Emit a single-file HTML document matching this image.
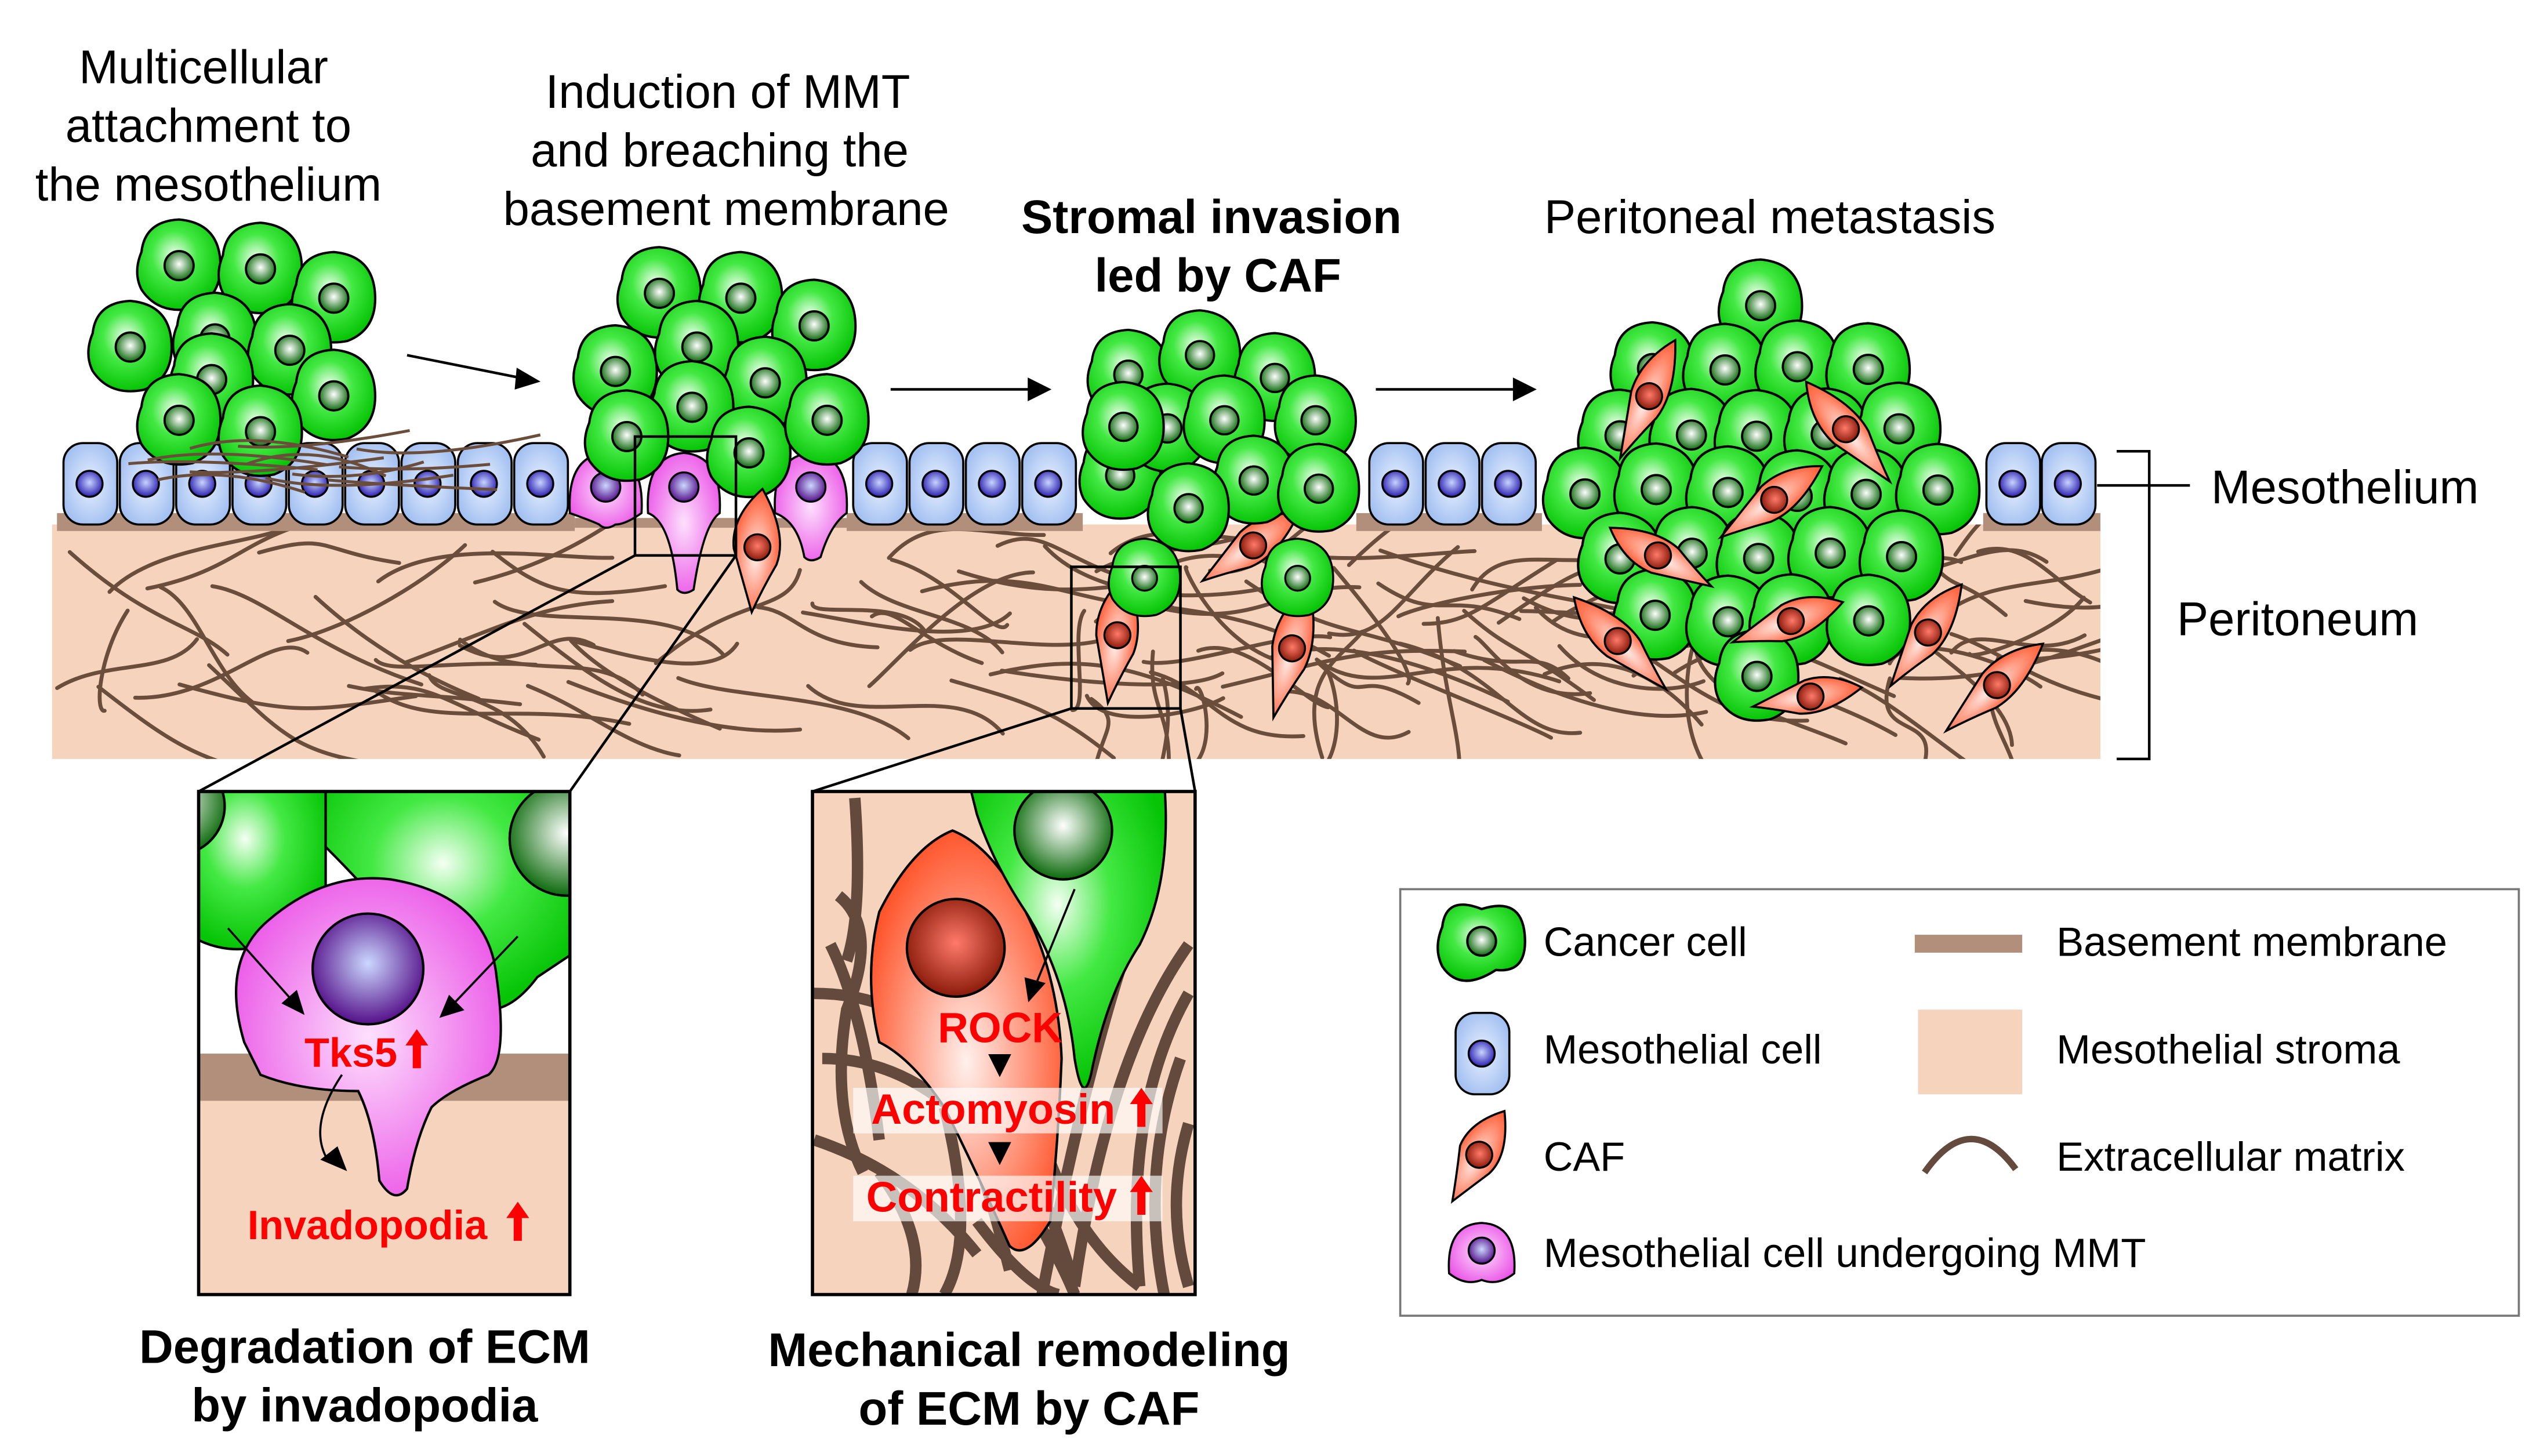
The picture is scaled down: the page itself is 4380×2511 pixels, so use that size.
<!DOCTYPE html>
<html><head><meta charset="utf-8"><style>
html,body{margin:0;padding:0;background:#fff}
svg{display:block}
text{font-family:"Liberation Sans",Arial,sans-serif}
</style></head><body>
<svg id="s" width="4380" height="2511" viewBox="0 0 1560 894" xmlns="http://www.w3.org/2000/svg">
<defs>
<radialGradient id="gc" cx="0.45" cy="0.4" r="0.6"><stop offset="0" stop-color="#f4fff4"/><stop offset="0.45" stop-color="#44e944"/><stop offset="1" stop-color="#06c406"/></radialGradient>
<radialGradient id="gn" cx="0.5" cy="0.45" r="0.55"><stop offset="0" stop-color="#ffffff"/><stop offset="1" stop-color="#0c6a0c"/></radialGradient>
<radialGradient id="bc" cx="0.5" cy="0.5" r="0.6"><stop offset="0" stop-color="#e8f0ff"/><stop offset="1" stop-color="#9dbcf0"/></radialGradient>
<radialGradient id="bn" cx="0.5" cy="0.45" r="0.55"><stop offset="0" stop-color="#c8d4ff"/><stop offset="1" stop-color="#2a1fb0"/></radialGradient>
<radialGradient id="pc" cx="0.5" cy="0.5" r="0.6"><stop offset="0" stop-color="#fde0fd"/><stop offset="1" stop-color="#ea4ee6"/></radialGradient>
<radialGradient id="pn" cx="0.5" cy="0.45" r="0.55"><stop offset="0" stop-color="#cbd8ff"/><stop offset="1" stop-color="#55108a"/></radialGradient>
<radialGradient id="rc" cx="0.5" cy="0.55" r="0.6"><stop offset="0" stop-color="#fff0ec"/><stop offset="1" stop-color="#ff4a1e"/></radialGradient>
<radialGradient id="rn" cx="0.5" cy="0.45" r="0.55"><stop offset="0" stop-color="#ff7a6a"/><stop offset="1" stop-color="#8a1a0a"/></radialGradient>
<clipPath id="cz1"><rect x="122" y="486" width="228" height="309"/></clipPath>
<clipPath id="cz2"><rect x="499" y="486" width="235" height="309"/></clipPath>
<clipPath id="cstroma"><rect x="32" y="322" width="1258" height="144"/></clipPath>
</defs>
<rect x="32" y="322" width="1258" height="144" fill="#f5d3bc"/>
<g id="fib" clip-path="url(#cstroma)" stroke="#6b4d3c" stroke-width="2.4" fill="none" stroke-linecap="round"></g>
<g fill="#b18f7b">
<rect x="35" y="315" width="318" height="11"/><rect x="520" y="315" width="145" height="11"/><rect x="833" y="315" width="114" height="11"/><rect x="1218" y="315" width="72" height="11"/><rect x="353" y="318" width="170" height="6"/>
</g>
<g id="meso"></g>
<g id="cells"></g>
<g stroke="#000" stroke-width="1.6" fill="#000">
<line x1="250" y1="218" x2="320" y2="232"/><polygon points="330,234 318,227 317,238"/>
<line x1="547" y1="239" x2="632" y2="239"/><polygon points="644,239 632,233 632,245"/>
<line x1="845" y1="239" x2="930" y2="239"/><polygon points="942,239 930,233 930,245"/>
</g>
<path d="M1300,277 H1320 V466 H1300 M1288,298 H1345" stroke="#000" stroke-width="1.6" fill="none"/>
<g stroke="#000" stroke-width="1.6" fill="none">
<rect x="390" y="268" width="62" height="73"/>
<rect x="658" y="348" width="67" height="87"/>
<line x1="390" y1="341" x2="122" y2="486"/><line x1="452" y1="341" x2="350" y2="486"/>
<line x1="658" y1="435" x2="499" y2="486"/><line x1="725" y1="435" x2="734" y2="486"/>
</g>
<g clip-path="url(#cz1)">
<rect x="122" y="486" width="228" height="309" fill="#fff"/>
<rect x="122" y="676" width="228" height="130" fill="#f5d3bc"/>
<rect x="122" y="647" width="228" height="29" fill="#b18f7b"/>
<path d="M110,470 L110,570 Q150,600 200,560 L200,470Z" fill="url(#gc)" stroke="#000" stroke-width="1.5"/>
<path d="M200,470 L200,520 Q240,560 270,600 Q300,640 330,600 L360,580 L360,470Z" fill="url(#gc)" stroke="#000" stroke-width="1.5"/>
<circle cx="348" cy="515" r="35" fill="url(#gn)" stroke="#000" stroke-width="1.5"/>
<circle cx="108" cy="495" r="30" fill="url(#gn)" stroke="#000" stroke-width="1.5"/>
<path d="M150,640 Q135,590 165,565 Q200,535 240,540 Q300,550 305,600 Q312,650 300,660 Q275,670 265,680 Q255,700 250,730 Q242,740 233,725 Q230,690 220,670 Q185,670 160,660 Z" fill="url(#pc)" stroke="#000" stroke-width="1.5"/>
<circle cx="226" cy="595" r="34" fill="url(#pn)" stroke="#000" stroke-width="1.5"/>
</g>
<rect x="122" y="486" width="228" height="309" fill="none" stroke="#000" stroke-width="2"/>
<g stroke="#000" stroke-width="1.3" fill="#000">
<line x1="140" y1="570" x2="180" y2="615"/><polygon points="186,622 174,616 182,609"/>
<line x1="318" y1="575" x2="278" y2="617"/><polygon points="271,624 276,612 284,620"/>
<path d="M210,660 Q190,690 200,710" fill="none"/><polygon points="212,718 198,712 207,705"/>
</g>
<defs><path id="ua" d="M-2.5,0 V-14 H-7 L0,-24 L7,-14 H2.5 V0Z" fill="#ff0000"/></defs>
<text x="187" y="655" font-size="25" font-weight="bold" fill="#ff0000">Tks5</text>
<use href="#ua" x="256" y="656"/>
<text x="152" y="761" font-size="25" font-weight="bold" fill="#ff0000">Invadopodia</text>
<use href="#ua" x="318" y="762"/>
<g clip-path="url(#cz2)">
<rect x="499" y="486" width="235" height="309" fill="#f5d3bc"/>
<g stroke="#634a3c" stroke-width="7" fill="none">
<path d="M525,490 Q530,560 520,590"/><path d="M515,550 Q540,570 520,620 Q510,680 530,720"/>
<path d="M510,580 Q530,620 540,700"/><path d="M500,610 Q560,610 600,660 Q640,720 660,790"/>
<path d="M505,650 Q570,650 620,720 Q650,770 660,795"/><path d="M500,700 Q560,720 600,770"/>
<path d="M570,630 Q600,700 620,780"/><path d="M700,560 Q670,640 640,795"/>
<path d="M730,580 Q680,650 660,790"/><path d="M730,610 Q690,680 700,790"/>
<path d="M725,650 Q700,720 715,795"/><path d="M730,690 Q715,740 730,790"/>
<path d="M640,700 Q660,760 700,790"/><path d="M580,680 Q600,760 580,795"/>
<path d="M540,720 Q570,760 560,795"/><path d="M600,750 Q630,790 650,795"/>
</g>
<path d="M540,560 Q560,520 585,510 Q610,520 630,560 Q650,600 652,650 Q650,700 645,750 Q630,775 620,765 Q600,720 580,680 Q560,650 540,640 Q530,600 540,560Z" fill="url(#rc)" stroke="#000" stroke-width="1.5"/>
<path d="M595,480 L600,500 Q610,530 630,560 Q655,600 660,650 Q665,680 670,660 Q680,610 700,580 Q720,540 715,480Z" fill="url(#gc)" stroke="#000" stroke-width="1.5"/>
<circle cx="653" cy="510" r="30" fill="url(#gn)" stroke="#000" stroke-width="1.5"/>
<circle cx="587" cy="582" r="30" fill="url(#rn)" stroke="#000" stroke-width="1.5"/>
<rect x="524" y="668" width="190" height="28" fill="#fff" fill-opacity="0.65"/>
<rect x="524" y="722" width="190" height="28" fill="#fff" fill-opacity="0.65"/>
</g>
<rect x="499" y="486" width="235" height="309" fill="none" stroke="#000" stroke-width="2"/>
<g stroke="#000" stroke-width="1.3" fill="#000">
<line x1="660" y1="546" x2="636" y2="605"/><polygon points="632,614 630,601 641,604"/>
<polygon points="608,648 620,648 614,660"/><polygon points="608,702 620,702 614,714"/>
</g>
<text x="576" y="640" font-size="26" font-weight="bold" fill="#ff0000">ROCK</text>
<text x="535" y="690" font-size="26" font-weight="bold" fill="#ff0000" textLength="150" lengthAdjust="spacingAndGlyphs">Actomyosin</text>
<use href="#ua" x="701" y="692"/>
<text x="532" y="744" font-size="26" font-weight="bold" fill="#ff0000" textLength="154" lengthAdjust="spacingAndGlyphs">Contractility</text>
<use href="#ua" x="701" y="746"/>
<rect x="860" y="546" width="687" height="262" fill="#fff" stroke="#777" stroke-width="1.3"/>
<g id="leg"></g>
<rect x="1176" y="574" width="66" height="11" fill="#b18f7b"/>
<rect x="1178" y="620" width="64" height="52" fill="#f5d3bc"/>
<path d="M1182,720 Q1210,680 1238,718" stroke="#634a3c" stroke-width="4" fill="none"/>
<g font-size="25" fill="#000">
<text x="948" y="587">Cancer cell</text><text x="948" y="653">Mesothelial cell</text><text x="948" y="719">CAF</text><text x="948" y="778" textLength="370" lengthAdjust="spacingAndGlyphs">Mesothelial cell undergoing MMT</text>
<text x="1263" y="587" textLength="240" lengthAdjust="spacingAndGlyphs">Basement membrane</text><text x="1263" y="653" textLength="211" lengthAdjust="spacingAndGlyphs">Mesothelial stroma</text><text x="1263" y="719" textLength="214" lengthAdjust="spacingAndGlyphs">Extracellular matrix</text>
</g>
<g font-size="29" fill="#000" text-anchor="middle">
<text x="125" y="51">Multicellular</text><text x="128" y="87">attachment to</text><text x="128" y="123">the mesothelium</text>
<text x="447" y="66">Induction of MMT</text><text x="442" y="102">and breaching the</text><text x="446" y="138">basement membrane</text>
<text x="744" y="143" font-weight="bold">Stromal invasion</text><text x="748" y="179" font-weight="bold">led by CAF</text>
<text x="1087" y="143">Peritoneal metastasis</text>
<text x="224" y="837" font-weight="bold">Degradation of ECM</text><text x="224" y="873" font-weight="bold">by invadopodia</text>
<text x="632" y="839" font-weight="bold">Mechanical remodeling</text><text x="632" y="875" font-weight="bold">of ECM by CAF</text>
</g>
<g font-size="29" fill="#000"><text x="1358" y="309">Mesothelium</text><text x="1337" y="390">Peritoneum</text></g>
</svg>
<script>
var NS="http://www.w3.org/2000/svg";
function el(p,t,a){var e=document.createElementNS(NS,t);for(var k in a)e.setAttribute(k,a[k]);p.appendChild(e);return e;}
var seed=7;function r(){seed=(seed*16807)%2147483647;return seed/2147483647;}
var fib=document.getElementById('fib');
for(var i=0;i<130;i++){var x=35+r()*1240,y=335+r()*95,l=70+r()*90,a=(r()-0.5)*1.6;if(r()<0.25)a+=1.0;
var x2=x+Math.cos(a)*l,y2=y+Math.sin(a)*l*0.7;var c1x=x+(x2-x)*0.33+(r()-0.5)*50,c1y=y+(y2-y)*0.33+(r()-0.5)*50,c2x=x+(x2-x)*0.66+(r()-0.5)*50,c2y=y+(y2-y)*0.66+(r()-0.5)*50;
el(fib,'path',{d:'M'+x+','+y+' C'+c1x+','+c1y+' '+c2x+','+c2y+' '+x2+','+y2});}
var meso=document.getElementById('meso');
function mc(x){el(meso,'rect',{x:x-16,y:272,width:33,height:50,rx:12,fill:'url(#bc)',stroke:'#000','stroke-width':1.3});
el(meso,'circle',{cx:x,cy:297,r:8,fill:'url(#bn)',stroke:'#000','stroke-width':1.2});}
for(var i=0;i<9;i++)mc(55+i*34.6);
for(var i=0;i<4;i++)mc(540+i*34.6);
for(var i=0;i<3;i++)mc(857+i*34.6);
mc(1236);mc(1270);
var cells=document.getElementById('cells');
function pink(x,tail){var d='M'+(x-22)+',315 Q'+(x-24)+',280 '+x+',278 Q'+(x+24)+',280 '+(x+22)+',315 Q'+(x+12)+',322 '+(x+6)+','+(322+tail)+' Q'+x+','+(326+tail)+' '+(x-4)+','+(322+tail)+' Q'+(x-8)+',320 '+(x-22)+',315Z';
el(cells,'path',{d:d,fill:'url(#pc)',stroke:'#000','stroke-width':1.3});el(cells,'circle',{cx:x,cy:299,r:9,fill:'url(#pn)',stroke:'#000','stroke-width':1.2});}
function green(x,y,s,rot){s=s||1;var g=el(cells,'g',{transform:'translate('+x+','+y+') rotate('+(rot||0)+') scale('+s+')'});
el(g,'path',{d:'M-22,-8 Q-20,-26 0,-27 Q22,-25 24,-4 Q26,18 8,25 Q-12,29 -22,14 Q-27,4 -22,-8Z',fill:'url(#gc)',stroke:'#000','stroke-width':1.4});
el(g,'circle',{cx:0,cy:0,r:8.5,fill:'url(#gn)',stroke:'#000','stroke-width':1.3});}
function caf(x,y,l,w,rot){var g=el(cells,'g',{transform:'translate('+x+','+y+') rotate('+rot+')'});
el(g,'path',{d:'M0,'+(-l)+' Q'+w+','+(-l*0.3)+' '+w*0.7+','+(l*0.2)+' Q'+(w*0.3)+','+(l*0.6)+' 0,'+l+' Q'+(-w*0.4)+','+(l*0.5)+' '+(-w*0.8)+',0 Q'+(-w)+','+(-l*0.5)+' 0,'+(-l)+'Z',fill:'url(#rc)',stroke:'#000','stroke-width':1.3});
el(g,'circle',{cx:0,cy:-2,r:8,fill:'url(#rn)',stroke:'#000','stroke-width':1.2});}
[[110,163],[160,165],[205,183],[80,213],[132,208],[178,215],[130,233],[205,243],[110,258],[160,265]].forEach(function(p){green(p[0],p[1],1.05);});
var f1=el(cells,'g',{stroke:'#6b4d3c','stroke-width':1.8,fill:'none'});
for(var i=0;i<12;i++){var x=40+r()*200,y=270+r()*25;el(f1,'path',{d:'M'+x+','+y+' Q'+(x+40)+','+(y-15+r()*30)+' '+(x+80+r()*40)+','+(y+(r()-0.5)*20)});}
pink(372,0);pink(420,40);pink(498,20);
[[405,180],[455,183],[500,200],[378,228],[428,213],[470,235],[425,250],[385,268],[460,278],[508,258]].forEach(function(p){green(p[0],p[1],1.05);});
caf(465,338,38,18,5);
caf(686,392,40,16,8);caf(768,336,36,14,55);caf(793,400,42,15,15);
green(703,355,0.9);green(797,355,0.9);
[[693,230],[737,218],[783,232],[688,292],[717,263],[752,258],[808,258],[770,295],[730,312],[810,300],[690,262]].forEach(function(p){green(p[0],p[1],1.02);});
var cx=1082,cy=303;
for(var yy=-114;yy<=118;yy+=38){for(var xx=-130;xx<=130;xx+=43){var ox=xx+((Math.round((yy+114)/38))%2?21:0);
if(ox*ox+yy*yy<=118*118){green(cx+ox+(r()-0.5)*6,cy+yy+(r()-0.5)*6,1.05);}}}
caf(1012,245,40,14,25);caf(1135,265,40,14,-40);caf(1088,308,38,14,55);caf(1020,342,36,14,-60);caf(1098,382,36,14,70);caf(995,395,40,14,-45);caf(1110,428,34,13,80);caf(1183,390,38,14,35);caf(1225,422,40,14,48);
var leg=document.getElementById('leg');
var g=el(leg,'g',{transform:'translate(910,578) scale(1.1)'});
el(g,'path',{d:'M-22,-8 Q-20,-26 0,-18 Q22,-25 24,-4 Q26,18 8,16 Q-12,29 -22,14 Q-27,4 -22,-8Z',fill:'url(#gc)',stroke:'#000','stroke-width':1.4});
el(g,'circle',{cx:0,cy:0,r:8,fill:'url(#gn)',stroke:'#000','stroke-width':1.3});
el(leg,'rect',{x:894,y:622,width:33,height:50,rx:12,fill:'url(#bc)',stroke:'#000','stroke-width':1.3});
el(leg,'circle',{cx:910,cy:647,r:8,fill:'url(#bn)',stroke:'#000','stroke-width':1.2});
var g2=el(leg,'g',{transform:'translate(908,710) rotate(30)'});
el(g2,'path',{d:'M0,-32 Q16,-10 11,6 Q5,20 0,32 Q-6,16 -13,0 Q-15,-16 0,-32Z',fill:'url(#rc)',stroke:'#000','stroke-width':1.3});
el(g2,'circle',{cx:0,cy:-1,r:8,fill:'url(#rn)',stroke:'#000','stroke-width':1.2});
el(leg,'path',{d:'M890,782 Q888,752 910,751 Q932,752 930,782 Q920,790 910,786 Q900,790 890,782Z',fill:'url(#pc)',stroke:'#000','stroke-width':1.3});
el(leg,'circle',{cx:910,cy:768,r:8,fill:'url(#pn)',stroke:'#000','stroke-width':1.2});
</script>
</body></html>
